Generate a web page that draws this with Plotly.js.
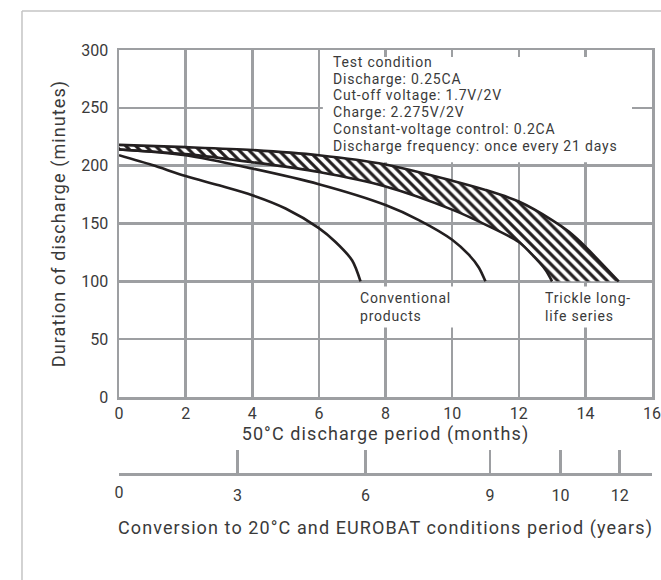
<!DOCTYPE html>
<html>
<head>
<meta charset="utf-8">
<script src="https://cdn.plot.ly/plotly-3.0.1.min.js"></script>
<style>
html,body{margin:0;padding:0;background:#fff;}
#chart{width:661px;height:580px;}
#chart text.xtitle, #chart text.x2title, #chart text.ytitle { letter-spacing: 1.1px; }
#chart text.annotation-text { letter-spacing: 0.8px; }
</style>
</head>
<body>
<div id="chart"></div>
<script>
// ---- data ----
const monthTicks = [0, 2, 4, 6, 8, 10, 12, 14, 16];
const minuteTicks = [0, 50, 100, 150, 200, 250, 300];

// Trickle long-life series: hatched band (upper and lower edge)
const hatchUpperMonths  = [0, 2, 4, 6, 8, 10, 11, 12, 13, 13.5, 14, 14.5, 15];
const hatchUpperMinutes = [218, 216, 213.5, 209, 201, 187, 179, 169, 153, 143, 130, 115, 100];
const hatchLowerMonths  = [0, 2, 4, 6, 8, 10, 11, 12, 12.5, 12.8, 13];
const hatchLowerMinutes = [214, 210, 203, 194.5, 182, 162, 149, 134, 120, 110, 100];

// Conventional products: two curves
const conv11Months  = [0, 2, 4, 6, 8, 9, 10, 10.5, 10.8, 11];
const conv11Minutes = [214, 209, 197.5, 184, 166, 153, 136, 123, 112, 100];
const conv7Months   = [0, 1, 2, 3, 4, 5, 6, 6.5, 7, 7.25];
const conv7Minutes  = [209, 200.5, 191, 183, 174.5, 163, 146, 134, 118, 100];

// Conversion scale (years) placed against the 50°C month scale
const yearTickMonths = [3.56, 7.4, 11.14, 13.25, 15.03];
const yearTickLabels = ['3', '6', '9', '10', '12'];
const yearZeroMonth = [0];
const yearZeroLabel = ['0'];

const testConditionLines = [
  'Test condition',
  'Discharge: 0.25CA',
  'Cut-off voltage: 1.7V/2V',
  'Charge: 2.275V/2V',
  'Constant-voltage control: 0.2CA',
  'Discharge frequency: once every 21 days'
];
const conventionalLabel = 'Conventional<br>products';
const trickleLabel = 'Trickle long-<br>life series';

// ---- styling ----
const FONT = 'Roboto, "DejaVu Sans", sans-serif';
const TXT = '#3a3a3a';
const GRID = '#9d9fa2';
const INK = '#231f20';

const curveLine = {color: INK, width: 2.6, shape: 'spline', smoothing: 0.8};

const traces = [
  {x: hatchLowerMonths, y: hatchLowerMinutes, mode: 'lines', line: curveLine,
   hoverinfo: 'skip', showlegend: false},
  {x: hatchUpperMonths, y: hatchUpperMinutes, mode: 'lines', line: curveLine,
   fill: 'tonexty', fillcolor: 'rgba(255,255,255,1)',
   fillpattern: {shape: '\\', fgcolor: INK, bgcolor: '#ffffff', size: 7, solidity: 0.45},
   hoverinfo: 'skip', showlegend: false},
  {x: conv11Months, y: conv11Minutes, mode: 'lines', line: curveLine,
   hoverinfo: 'skip', showlegend: false},
  {x: conv7Months, y: conv7Minutes, mode: 'lines', line: curveLine,
   hoverinfo: 'skip', showlegend: false},
  // anchors for the secondary (years) scale
  {x: yearTickMonths, y: yearTickMonths.map(() => null), xaxis: 'x2', yaxis: 'y',
   mode: 'none', hoverinfo: 'skip', showlegend: false},
  {x: yearZeroMonth, y: yearZeroMonth.map(() => null), xaxis: 'x3', yaxis: 'y',
   mode: 'none', hoverinfo: 'skip', showlegend: false}
];

const PX_PER_MIN = 347 / 300;   // layout helper for text line spacing
const annotations = testConditionLines.map((t, i) => ({
  text: t, xref: 'x', yref: 'y', x: 6.36, y: 289.6 - i * (16.7 / PX_PER_MIN),
  xanchor: 'left', yanchor: 'middle', showarrow: false, align: 'left',
  font: {family: FONT, size: 14, color: TXT}
}));
annotations.push({
  text: conventionalLabel, xref: 'x', yref: 'y', x: 7.12, y: 78,
  xanchor: 'left', yanchor: 'middle', showarrow: false, align: 'left',
  bgcolor: '#ffffff', borderpad: 3, width: 92,
  font: {family: FONT, size: 14, color: TXT}
});
annotations.push({
  text: trickleLabel, xref: 'x', yref: 'y', x: 12.68, y: 78,
  xanchor: 'left', yanchor: 'middle', showarrow: false, align: 'left',
  bgcolor: '#ffffff', borderpad: 3,
  font: {family: FONT, size: 14, color: TXT}
});

const layout = {
  width: 661, height: 580,
  margin: {l: 119, r: 9, t: 50, b: 106, pad: 0},
  paper_bgcolor: '#ffffff', plot_bgcolor: '#ffffff',
  font: {family: FONT, color: TXT},
  showlegend: false,
  xaxis: {
    range: [0, 16], domain: [0, 1], anchor: 'y', fixedrange: true,
    tickmode: 'array', tickvals: monthTicks, ticktext: monthTicks.map(String),
    showgrid: true, gridcolor: GRID, gridwidth: 2.5,
    showline: true, mirror: true, linecolor: GRID, linewidth: 2.5, zeroline: false,
    ticks: '',
    tickfont: {family: FONT, size: 16, color: TXT},
    title: {text: '50°C discharge period (months)', font: {family: FONT, size: 18, color: TXT}, standoff: 3}
  },
  xaxis2: {
    range: [0, 16], overlaying: 'x', anchor: 'free', position: 0, side: 'bottom', fixedrange: true,
    tickmode: 'array', tickvals: yearTickMonths, ticktext: yearTickLabels,
    showgrid: false, zeroline: false,
    showline: true, linecolor: GRID, linewidth: 3,
    ticks: 'inside', ticklen: 23, tickwidth: 2.5, tickcolor: GRID,
    ticklabelstandoff: 6,
    tickfont: {family: FONT, size: 16, color: TXT},
    title: {text: 'Conversion to 20°C and EUROBAT conditions period (years)',
            font: {family: FONT, size: 18, color: TXT}, standoff: 17}
  },
  xaxis3: {
    range: [0, 16], overlaying: 'x', anchor: 'free', position: 0, side: 'bottom', fixedrange: true,
    tickmode: 'array', tickvals: yearZeroMonth, ticktext: yearZeroLabel,
    showgrid: false, zeroline: false, showline: false, ticks: '',
    ticklabelstandoff: 7,
    tickfont: {family: FONT, size: 16, color: TXT}
  },
  yaxis: {
    range: [0, 300], domain: [77 / 424, 1], anchor: 'x', fixedrange: true,
    tickmode: 'array', tickvals: minuteTicks, ticktext: minuteTicks.map(String),
    showgrid: true, gridcolor: GRID, gridwidth: 2.5,
    showline: true, mirror: true, linecolor: GRID, linewidth: 2.5, zeroline: false,
    ticks: 'outside', ticklen: 5, tickcolor: 'rgba(0,0,0,0)',
    tickfont: {family: FONT, size: 16, color: TXT},
    title: {text: 'Duration of discharge (minutes)', font: {family: FONT, size: 18, color: TXT}, standoff: 11}
  },
  shapes: [
    // white panel behind the test-condition text (above grid, below curves)
    {type: 'rect', xref: 'x', yref: 'y', x0: 6.12, x1: 15.4, y0: 203, y1: 294,
     fillcolor: '#ffffff', line: {width: 0}, layer: 'between'},
    // outer frame
    {type: 'line', xref: 'paper', yref: 'paper', x0: -0.182, x1: -0.182, y0: -0.26, y1: 1.092,
     line: {color: '#c4c4c4', width: 1.5}},
    {type: 'line', xref: 'paper', yref: 'paper', x0: -0.182, x1: 1.03, y0: 1.092, y1: 1.092,
     line: {color: '#c4c4c4', width: 1.5}}
  ],
  annotations: annotations
};

Plotly.newPlot('chart', traces, layout, {displayModeBar: false, staticPlot: true});
</script>
</body>
</html>
